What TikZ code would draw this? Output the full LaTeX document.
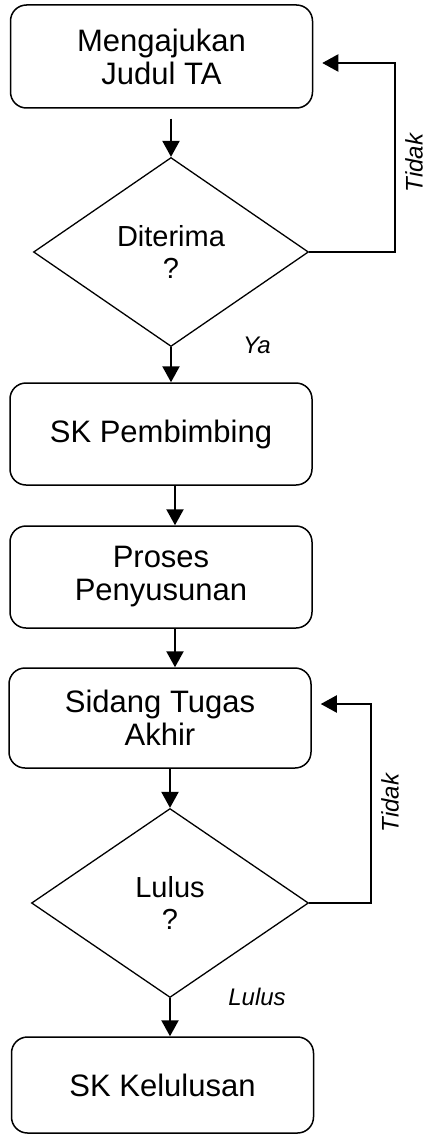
\documentclass[tikz,border=0pt]{standalone}
\usepackage{fontspec}
\setmainfont{Liberation Sans}
\usetikzlibrary{shapes.geometric,arrows.meta,calc}
\begin{document}
\begin{tikzpicture}[x=1pt,y=-1pt,
  procbox/.style={draw, line width=1.5pt, rounded corners=16pt, minimum width=302pt, inner sep=0pt,
    align=center, font=\fontsize{31}{33}\selectfont},
  decbox/.style={draw, diamond, line width=1.3pt, inner sep=0pt, align=center,
    font=\fontsize{29}{32}\selectfont},
  flow/.style={line width=2.3pt, -{Triangle[width=17pt,length=16pt]}},
  lbl/.style={font=\fontsize{24}{26}\selectfont\itshape},
]
\useasboundingbox (0,0) rectangle (426,1137);
\node[procbox, minimum height=103pt] (b1) at (161.5,56.5) {Mengajukan\\Judul TA};
\node[decbox, minimum width=275pt, minimum height=189pt] (d1) at (171,252) {Diterima\\?};
\node[procbox, minimum height=102pt] (b2) at (161,434) {SK Pembimbing};
\node[procbox, minimum height=102pt] (b3) at (161,577) {Proses\\Penyusunan};
\node[procbox, minimum height=100pt] (b4) at (160,718) {Sidang Tugas\\Akhir};
\node[decbox, minimum width=277pt, minimum height=189pt] (d2) at (170,903) {Lulus\\?};
\node[procbox, minimum height=96pt] (b5) at (162.5,1085) {SK Kelulusan};

\coordinate (c1) at (395,63);
\coordinate (c2) at (371,704);
\coordinate (x2) at (175,0);

\draw[flow, shorten <=10pt] (d1.north |- b1.south) -- (d1.north);
\draw[flow] (d1.south) -- (d1.south |- b2.north);
\draw[flow] (x2 |- b2.south) -- (x2 |- b3.north);
\draw[flow] (x2 |- b3.south) -- (x2 |- b4.north);
\draw[flow] (d2.north |- b4.south) -- (d2.north);
\draw[flow] (d2.south) -- (d2.south |- b5.north);

\draw[flow, line width=2pt, shorten >=9pt] (d1.east) -| (c1) -- (b1.east |- c1);
\draw[flow, line width=2pt, shorten >=9pt] (d2.east) -| (c2) -- (b4.east |- c2);

\node[lbl, rotate=90] (t1) at (414,163) {Tidak};
\node[lbl] (ya) at (257,345) {Ya};
\node[lbl, rotate=90] (t2) at (390,803) {Tidak};
\node[lbl] (ll) at (257,997) {Lulus};
\end{tikzpicture}
\end{document}
